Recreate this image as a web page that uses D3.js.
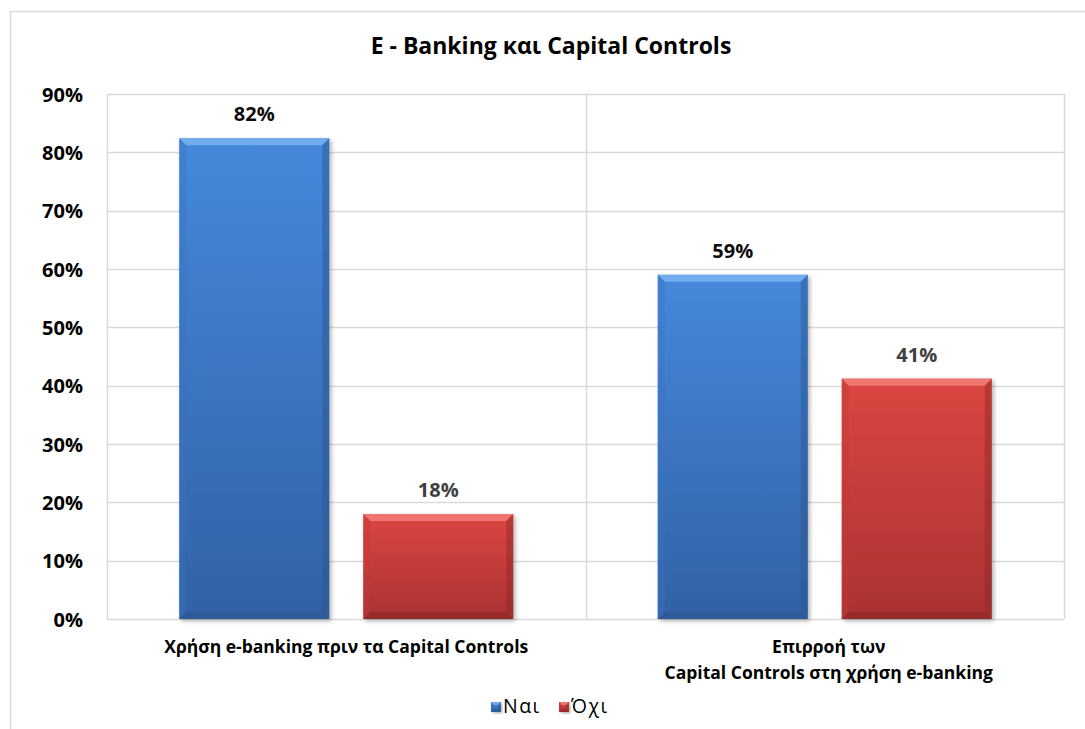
<!DOCTYPE html>
<html>
<head>
<meta charset="utf-8">
<script src="https://cdn.jsdelivr.net/npm/d3@7"></script>
<style>
  html, body { margin: 0; padding: 0; background: #fff; }
  svg { display: block; }
  text { font-family: "Open Sans", "Noto Sans", sans-serif; }
</style>
</head>
<body>
<svg id="chart" width="1085" height="729"></svg>
<script>
// Survey answers per question, as shares of respondents
const categories = [
  ["Χρήση e-banking πριν τα Capital Controls"],
  ["Επιρροή των", "Capital Controls στη χρήση e-banking"]
];
const seriesNames = ["Ναι", "Όχι"];
const yesValues = [0.824, 0.59];
const noValues = [0.18, 0.412];
const yTicks = [0, 0.1, 0.2, 0.3, 0.4, 0.5, 0.6, 0.7, 0.8, 0.9];
const title = "E - Banking και Capital Controls";

const palette = {
  "Ναι": { top: "#4589dc", bottom: "#3261a4", light: "#76b0f0", dark: "#2a5590", side: "#3a73c0", label: "#0d0d0d" },
  "Όχι": { top: "#dc4642", bottom: "#a93232", light: "#f07a76", dark: "#8a2828", side: "#c03a38", label: "#404040" }
};

const svg = d3.select("#chart");
const plot = { left: 107, right: 1064, top: 94, bottom: 619 };

// Chart-area border
svg.append("rect")
  .attr("x", 10.5).attr("y", 11.5).attr("width", 1100).attr("height", 740)
  .attr("fill", "#fff").attr("stroke", "#d9d9d9").attr("stroke-width", 1.5);

const defs = svg.append("defs");
seriesNames.forEach((s, i) => {
  const g = defs.append("linearGradient").attr("id", "grad" + i)
    .attr("x1", 0).attr("y1", 0).attr("x2", 0).attr("y2", 1);
  g.append("stop").attr("offset", "0%").attr("stop-color", palette[s].top);
  g.append("stop").attr("offset", "100%").attr("stop-color", palette[s].bottom);
});
const shadow = defs.append("filter").attr("id", "shadow")
  .attr("x", "-10%").attr("y", "-10%").attr("width", "130%").attr("height", "130%");
shadow.append("feDropShadow").attr("dx", 2).attr("dy", 2).attr("stdDeviation", 2)
  .attr("flood-color", "#000").attr("flood-opacity", 0.3);

const x0 = d3.scaleBand().domain(d3.range(categories.length))
  .range([plot.left, plot.right]).paddingInner(0).paddingOuter(0);
const x1 = d3.scaleBand().domain(seriesNames)
  .range([0, x0.bandwidth()]).paddingInner(0.1848).paddingOuter(0.3927);
const y = d3.scaleLinear().domain([0, 0.9]).range([plot.bottom, plot.top]);

// Gridlines
svg.append("g").selectAll("line").data(yTicks).join("line")
  .attr("x1", plot.left).attr("x2", plot.right)
  .attr("y1", d => Math.round(y(d)) + 0.5).attr("y2", d => Math.round(y(d)) + 0.5)
  .attr("stroke", "#d9d9d9").attr("stroke-width", 1.5);

// Vertical separators between categories
const seps = d3.range(categories.length + 1).map(i => i < categories.length ? x0(i) : plot.right);
svg.append("g").selectAll("line").data(seps).join("line")
  .attr("x1", d => Math.round(d) + 0.5).attr("x2", d => Math.round(d) + 0.5)
  .attr("y1", plot.top).attr("y2", plot.bottom)
  .attr("stroke", "#d9d9d9").attr("stroke-width", 1.5);

// Y axis labels
const yAxis = d3.axisLeft(y).tickValues(yTicks).tickFormat(d3.format(".0%")).tickSize(0).tickPadding(0);
const ya = svg.append("g").attr("transform", `translate(${plot.left - 24},0)`).call(yAxis);
ya.select(".domain").remove();
ya.selectAll("text")
  .attr("font-family", "'Open Sans', sans-serif")
  .attr("font-size", 20).attr("font-weight", 700).attr("fill", "#000")
  .attr("dy", "0.35em");

// Beveled bar
function drawBar(g, xL, w, yT, yB, s, idx, bevel) {
  const c = palette[s];
  const b = Math.min(bevel, (yB - yT) / 2);
  const bar = g.append("g").attr("filter", "url(#shadow)");
  bar.append("rect").attr("x", xL).attr("y", yT).attr("width", w).attr("height", yB - yT)
    .attr("fill", `url(#grad${idx})`);
  const xR = xL + w;
  // top bevel
  bar.append("polygon")
    .attr("points", [[xL, yT], [xR, yT], [xR - b, yT + b], [xL + b, yT + b]].join(" "))
    .attr("fill", c.light).attr("opacity", 0.9);
  // left bevel
  bar.append("polygon")
    .attr("points", [[xL, yT], [xL + b, yT + b], [xL + b, yB - b], [xL, yB]].join(" "))
    .attr("fill", c.side).attr("opacity", 0.4);
  // right bevel
  bar.append("polygon")
    .attr("points", [[xR, yT], [xR - b, yT + b], [xR - b, yB - b], [xR, yB]].join(" "))
    .attr("fill", c.dark).attr("opacity", 0.45);
  // bottom bevel
  bar.append("polygon")
    .attr("points", [[xL, yB], [xL + b, yB - b], [xR - b, yB - b], [xR, yB]].join(" "))
    .attr("fill", c.dark).attr("opacity", 0.6);
}

const rows = categories.map((c, i) => ({ i, values: [
  { s: seriesNames[0], v: yesValues[i], k: 0 },
  { s: seriesNames[1], v: noValues[i], k: 1 }
]}));

const barsG = svg.append("g");
rows.forEach(r => {
  r.values.forEach(d => {
    const xL = x0(r.i) + x1(d.s);
    drawBar(barsG, xL, x1.bandwidth(), y(d.v), y(0), d.s, d.k, 7);
    barsG.append("text")
      .attr("x", xL + x1.bandwidth() / 2).attr("y", y(d.v) - 17)
      .attr("text-anchor", "middle")
      .attr("font-size", 20).attr("font-weight", 700).attr("fill", palette[d.s].label)
      .text(d3.format(".0%")(d.v));
  });
});

// Category labels
categories.forEach((lines, i) => {
  const cx = x0(i) + x0.bandwidth() / 2 + (lines.length > 1 ? 4 : 0);
  const t = svg.append("text")
    .attr("x", cx).attr("y", 653)
    .attr("text-anchor", "middle")
    .attr("font-size", 17.5).attr("font-weight", 700).attr("fill", "#000");
  lines.forEach((ln, j) => {
    t.append("tspan").attr("x", cx).attr("dy", j === 0 ? 0 : 26).text(ln);
  });
});

// Title
svg.append("text").attr("x", 551).attr("y", 54).attr("text-anchor", "middle")
  .attr("font-size", 23).attr("font-weight", 700).attr("fill", "#000")
  .text(title);

// Legend
const legend = svg.append("g").attr("transform", "translate(491,702)");
const legendX = [0, 68];
seriesNames.forEach((s, i) => {
  const lg = legend.append("g").attr("transform", `translate(${legendX[i]},0)`);
  drawBar(lg, 0, 10, 0, 10, s, i, 3);
  lg.append("text").attr("x", 12).attr("y", 11)
    .attr("font-size", 19.5).attr("letter-spacing", 1.5).attr("fill", "#000").text(s);
});
</script>
</body>
</html>
